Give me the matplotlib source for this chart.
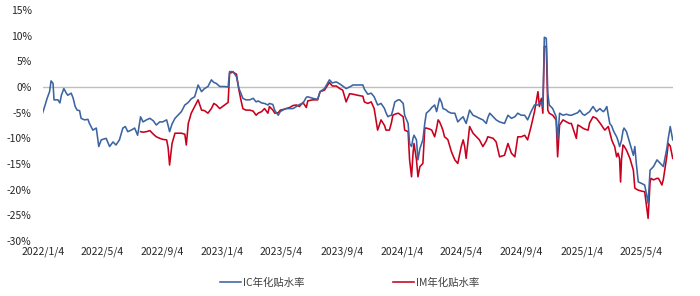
import matplotlib
matplotlib.use("Agg")
import matplotlib.pyplot as plt
import pandas as pd

plt.rcParams['font.family'] = ['Noto Sans CJK SC', 'DejaVu Sans']

# sample dates (IC covers all of them, IM starts at its listing in July 2022)
dates = [
    '2022-01-04', '2022-01-08', '2022-01-13', '2022-01-18', '2022-01-21', '2022-01-25',
    '2022-01-27', '2022-02-04', '2022-02-08', '2022-02-11', '2022-02-16', '2022-02-21',
    '2022-02-24', '2022-03-03', '2022-03-07', '2022-03-11', '2022-03-15', '2022-03-20',
    '2022-03-23', '2022-03-30', '2022-04-06', '2022-04-09', '2022-04-16', '2022-04-23',
    '2022-04-28', '2022-05-03', '2022-05-13', '2022-05-20', '2022-05-27', '2022-06-02',
    '2022-06-09', '2022-06-16', '2022-06-21', '2022-06-26', '2022-07-03', '2022-07-10',
    '2022-07-16',
    # IM listed
    '2022-07-22', '2022-07-27', '2022-08-03', '2022-08-10', '2022-08-17', '2022-08-23',
    '2022-08-30', '2022-09-05', '2022-09-13', '2022-09-16', '2022-09-19', '2022-09-24',
    '2022-09-30', '2022-10-06', '2022-10-13', '2022-10-20', '2022-10-23', '2022-10-27',
    '2022-11-02', '2022-11-09', '2022-11-16', '2022-11-23', '2022-11-29', '2022-12-06',
    '2022-12-13', '2022-12-18', '2022-12-23', '2022-12-30', '2023-01-09', '2023-01-16',
    '2023-01-19', '2023-01-26', '2023-02-02', '2023-02-07', '2023-02-11', '2023-02-15',
    '2023-02-21', '2023-03-01', '2023-03-08', '2023-03-14', '2023-03-18', '2023-03-25',
    '2023-03-31', '2023-04-07', '2023-04-10', '2023-04-17', '2023-04-21', '2023-04-28',
    '2023-05-02', '2023-05-07', '2023-05-14', '2023-05-21', '2023-05-28', '2023-06-04',
    '2023-06-10', '2023-06-17', '2023-06-24', '2023-06-27', '2023-07-07', '2023-07-17',
    '2023-07-22', '2023-07-31', '2023-08-10', '2023-08-16', '2023-08-24', '2023-08-31',
    '2023-09-06', '2023-09-13', '2023-09-20', '2023-09-27', '2023-10-06', '2023-10-17',
    '2023-10-20', '2023-10-27', '2023-11-03', '2023-11-09', '2023-11-16', '2023-11-23',
    '2023-11-30', '2023-12-03', '2023-12-07', '2023-12-10', '2023-12-14', '2023-12-17',
    '2023-12-21', '2023-12-28', '2023-12-31', '2024-01-07', '2024-01-10', '2024-01-17',
    '2024-01-20', '2024-01-24', '2024-01-27', '2024-01-29', '2024-02-03', '2024-02-06',
    '2024-02-10', '2024-02-16', '2024-02-20', '2024-02-23', '2024-03-01', '2024-03-05',
    '2024-03-11', '2024-03-15', '2024-03-18', '2024-03-21', '2024-03-25', '2024-03-28',
    '2024-03-31', '2024-04-04', '2024-04-07', '2024-04-14', '2024-04-21', '2024-04-27',
    '2024-05-04', '2024-05-08', '2024-05-11', '2024-05-14', '2024-05-21', '2024-05-28',
    '2024-06-04', '2024-06-10', '2024-06-17', '2024-06-24', '2024-06-27', '2024-07-01',
    '2024-07-08', '2024-07-14', '2024-07-21', '2024-07-31', '2024-08-07', '2024-08-14',
    '2024-08-21', '2024-08-27', '2024-09-03', '2024-09-10', '2024-09-16', '2024-09-23',
    '2024-09-30', '2024-10-07', '2024-10-10', '2024-10-14', '2024-10-17', '2024-10-20',
    '2024-10-24', '2024-10-27', '2024-10-30', '2024-11-06', '2024-11-13', '2024-11-16',
    '2024-11-20', '2024-11-27', '2024-12-04', '2024-12-10', '2024-12-14', '2024-12-24',
    '2024-12-27', '2024-12-31', '2025-01-06', '2025-01-10', '2025-01-17', '2025-01-20',
    '2025-01-27', '2025-02-03', '2025-02-10', '2025-02-13', '2025-02-17', '2025-02-20',
    '2025-02-24', '2025-02-27', '2025-03-02', '2025-03-06', '2025-03-09', '2025-03-12',
    '2025-03-16', '2025-03-19', '2025-03-22', '2025-03-24', '2025-03-26', '2025-03-29',
    '2025-03-31', '2025-04-05', '2025-04-12', '2025-04-19', '2025-04-22', '2025-04-25',
    '2025-04-29', '2025-05-06', '2025-05-12', '2025-05-16', '2025-05-19', '2025-05-23',
    '2025-05-25', '2025-05-30', '2025-06-06', '2025-06-09', '2025-06-13', '2025-06-16',
    '2025-06-19', '2025-06-23', '2025-06-26', '2025-06-29', '2025-07-03', '2025-07-08',
]

# IC annualised discount, %
ic = [
    -5.0, -3.8, -2.2, -0.9, 1.2, 0.7,
    -2.5, -2.5, -3.1, -1.6, -0.3, -1.2,
    -1.6, -1.2, -2.2, -3.8, -4.5, -4.6,
    -6.1, -6.4, -6.3, -7.1, -8.4, -8.0,
    -11.6, -10.3, -10.0, -11.6, -10.7, -11.3,
    -10.3, -8.0, -7.7, -8.7, -8.4, -8.0,
    -9.4,
    -5.8, -6.8, -6.4, -6.1, -6.6, -7.4,
    -6.8, -6.8, -6.4, -7.5, -8.7, -7.2,
    -6.1, -5.5, -4.8, -3.5, -3.3, -3.0,
    -2.3, -1.9, 0.4, -0.9, -0.3, 0.1,
    1.4, 0.9, 0.7, 0.1, 0.1, 0.0,
    3.0, 3.0, 2.0, -0.3, -1.2, -2.2,
    -2.5, -2.5, -2.2, -2.9, -2.7, -3.1,
    -3.2, -3.5, -3.2, -3.4, -4.6, -5.5,
    -4.8, -4.5, -4.2, -4.2, -4.2, -3.8,
    -3.4, -3.2, -2.0, -1.9, -2.2, -2.4,
    -0.9, -0.3, 1.4, 0.8, 1.0, 0.6,
    0.2, -0.3, 0.0, 0.4, 0.4, 0.4,
    -0.4, -1.4, -1.2, -1.9, -3.5, -3.2,
    -4.2, -5.0, -5.8, -5.6, -5.5, -4.5,
    -2.9, -2.5, -2.5, -3.2, -5.5, -7.1,
    -11.0, -11.6, -10.0, -9.4, -10.3, -14.2,
    -12.0, -10.3, -7.0, -5.1, -4.5, -4.0,
    -3.5, -4.8, -3.5, -2.2, -3.0, -4.2,
    -4.3, -4.5, -4.8, -5.1, -5.1, -6.8,
    -6.1, -5.8, -6.5, -7.1, -4.5, -5.5,
    -5.8, -6.1, -6.4, -7.1, -6.0, -5.1,
    -5.8, -6.4, -6.8, -7.1, -5.5, -6.1,
    -5.8, -5.1, -5.5, -5.5, -6.4, -4.8,
    -3.5, -3.5, -3.2, -2.9, -3.8, 9.7,
    9.5, -1.2, -3.5, -4.2, -5.8, -10.3,
    -5.1, -5.5, -5.3, -5.5, -5.5, -5.1,
    -5.0, -4.5, -5.3, -5.5, -5.0, -4.8,
    -3.8, -4.8, -4.2, -4.5, -4.8, -4.5,
    -3.8, -5.5, -7.1, -7.6, -8.4, -9.0,
    -9.7, -10.5, -11.6, -11.0, -10.3, -8.5,
    -8.0, -8.7, -11.0, -13.3, -11.6, -14.9,
    -18.5, -18.8, -19.1, -21.0, -22.7, -16.2,
    -16.0, -15.5, -14.2, -14.5, -14.9, -15.2,
    -15.5, -13.5, -12.0, -10.0, -7.7, -10.3,
]

# IM annualised discount, %, from 2022-07-22 onward
im = [
    -8.7, -8.8, -8.7, -8.5, -9.2, -9.7,
    -10.0, -10.2, -10.3, -11.8, -15.2, -11.0,
    -9.0, -9.0, -9.0, -9.2, -11.3, -7.1,
    -5.1, -3.8, -2.5, -4.5, -4.6, -5.1,
    -4.2, -3.2, -3.5, -4.2, -3.5, -3.0,
    2.7, 2.9, 2.5, -0.6, -2.5, -4.2,
    -4.5, -4.5, -4.7, -5.5, -5.1, -4.8,
    -4.2, -5.1, -3.8, -4.5, -5.1, -5.0,
    -4.5, -4.4, -4.2, -4.0, -3.6, -3.5,
    -3.8, -3.0, -4.0, -2.7, -2.5, -2.5,
    -0.9, -0.6, 0.9, 0.2, 0.2, -0.3,
    -0.6, -2.9, -1.3, -1.4, -1.6, -1.8,
    -2.9, -3.2, -2.9, -4.2, -8.4, -6.4,
    -7.5, -8.4, -8.4, -8.4, -7.0, -5.5,
    -5.3, -5.1, -5.3, -5.8, -8.4, -8.7,
    -14.2, -17.5, -12.9, -11.0, -14.2, -17.5,
    -15.5, -14.9, -8.0, -8.0, -8.2, -8.4,
    -9.7, -8.0, -6.4, -6.8, -7.7, -8.5,
    -9.7, -10.0, -10.3, -12.6, -14.2, -14.9,
    -11.6, -10.3, -11.6, -13.9, -7.7, -9.0,
    -9.7, -10.3, -11.6, -10.5, -9.7, -9.8,
    -10.0, -10.7, -13.6, -13.3, -11.0, -12.9,
    -13.6, -9.7, -9.7, -9.4, -10.3, -7.7,
    -4.8, -0.9, -3.8, -2.2, -5.1, 7.9,
    7.9, -4.5, -5.1, -5.5, -6.4, -13.6,
    -7.4, -6.4, -6.8, -7.1, -7.1, -10.0,
    -7.4, -7.6, -8.0, -8.2, -8.4, -7.0,
    -5.8, -6.1, -7.0, -7.4, -8.0, -8.4,
    -8.0, -7.7, -8.8, -10.3, -11.0, -11.6,
    -13.6, -12.9, -14.0, -18.5, -14.0, -11.3,
    -11.5, -12.3, -13.9, -16.2, -19.7, -19.9,
    -20.1, -20.3, -20.4, -23.3, -25.6, -18.5,
    -17.8, -18.1, -17.8, -17.8, -18.5, -19.1,
    -18.0, -15.5, -13.5, -11.0, -11.5, -13.9,
]

tick_dates = ['2022-01-04', '2022-05-04', '2022-09-04', '2023-01-04', '2023-05-04',
              '2023-09-04', '2024-01-04', '2024-05-04', '2024-09-04', '2025-01-04',
              '2025-05-04']
y_ticks = [15, 10, 5, 0, -5, -10, -15, -20, -25, -30]

x_ic = pd.to_datetime(dates)
x_im = x_ic[len(ic) - len(im):]
ticks = pd.to_datetime(tick_dates)

fig = plt.figure(figsize=(7, 2.96), dpi=100)
ax = fig.add_axes([0.061, 0.186, 0.900, 0.780])

ax.axhline(0, color='#BFBFBF', linewidth=1.0, zorder=1)
ax.plot(x_ic, ic, color='#3C64A0', linewidth=1.15, label='IC年化贴水率', zorder=3)
ax.plot(x_im, im, color='#C8001E', linewidth=1.15, label='IM年化贴水率', zorder=2)

ax.set_ylim(-30, 15)
ax.set_xlim(pd.Timestamp('2022-01-04'), pd.Timestamp('2025-07-08'))
ax.set_yticks(y_ticks)
ax.set_yticklabels([f"{v}%" for v in y_ticks])
ax.set_xticks(ticks)
ax.set_xticklabels([f"{d.year}/{d.month}/{d.day}" for d in ticks])

for side in ['top', 'right', 'left', 'bottom']:
    ax.spines[side].set_visible(False)
ax.tick_params(axis='both', length=0, labelsize=7.5, colors='#262626')
ax.tick_params(axis='y', pad=8)
ax.tick_params(axis='x', pad=4)

fig.legend(loc='center', bbox_to_anchor=(0.5, 0.045), ncol=2, frameon=False,
           fontsize=7.5, handlelength=2.0, handletextpad=0.2, columnspacing=8.5,
           labelcolor='#404040')

fig.savefig('out.png', dpi=100)
